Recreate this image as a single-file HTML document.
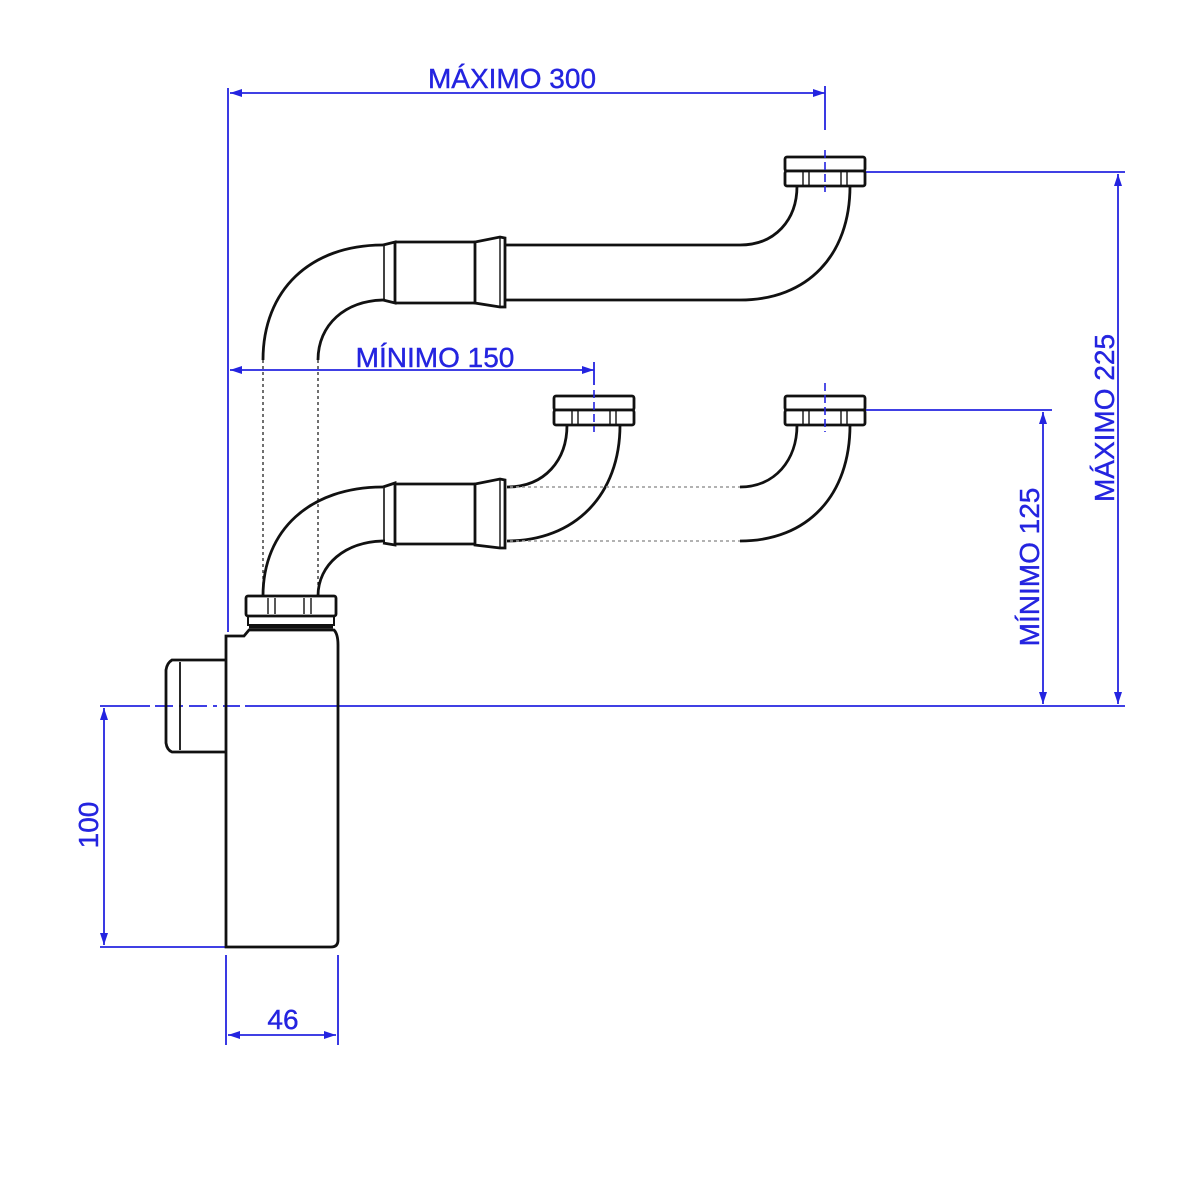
<!DOCTYPE html>
<html><head><meta charset="utf-8"><style>
html,body{margin:0;padding:0;background:#fff}
svg{display:block}
text{font-family:"Liberation Sans",sans-serif;font-size:28px;fill:#2424e0;stroke:#2424e0;stroke-width:0.4}
</style></head><body>
<svg width="1200" height="1200" viewBox="0 0 1200 1200" xmlns="http://www.w3.org/2000/svg">
<defs>
<marker id="a" viewBox="0 0 12 8" refX="12" refY="4" markerWidth="12" markerHeight="8" orient="auto-start-reverse" markerUnits="userSpaceOnUse"><path d="M0,0 L12,4 L0,8 z" fill="#2424e0"/></marker>
</defs>
<g stroke="#2424e0" stroke-width="1.8" fill="none">
<line x1="228" y1="88" x2="228" y2="632"/>
<line x1="230" y1="93" x2="825" y2="93" marker-start="url(#a)" marker-end="url(#a)"/>
<line x1="825" y1="86" x2="825" y2="130"/>
<line x1="230" y1="370" x2="594" y2="370" marker-start="url(#a)" marker-end="url(#a)"/>
<line x1="594" y1="362" x2="594" y2="385"/>
<line x1="100" y1="706" x2="150" y2="706"/>
<line x1="155" y1="706" x2="240" y2="706" stroke-dasharray="18,6,4,6"/>
<line x1="245" y1="706" x2="1125" y2="706"/>
<line x1="865" y1="172" x2="1125" y2="172"/>
<line x1="1118" y1="174" x2="1118" y2="704" marker-start="url(#a)" marker-end="url(#a)"/>
<line x1="865" y1="410" x2="1052" y2="410"/>
<line x1="1043" y1="412" x2="1043" y2="704" marker-start="url(#a)" marker-end="url(#a)"/>
<line x1="100" y1="947" x2="226" y2="947"/>
<line x1="104" y1="708" x2="104" y2="945" marker-start="url(#a)" marker-end="url(#a)"/>
<line x1="226" y1="955" x2="226" y2="1045"/>
<line x1="338" y1="955" x2="338" y2="1045"/>
<line x1="228" y1="1035" x2="336" y2="1035" marker-start="url(#a)" marker-end="url(#a)"/>
</g>
<text x="512" y="88" text-anchor="middle">MÁXIMO 300</text>
<text x="435" y="367" text-anchor="middle">MÍNIMO 150</text>
<text x="283" y="1029" text-anchor="middle">46</text>
<text transform="translate(98,825) rotate(-90)" text-anchor="middle">100</text>
<text transform="translate(1114,418) rotate(-90)" text-anchor="middle">MÁXIMO 225</text>
<text transform="translate(1039,567) rotate(-90)" text-anchor="middle">MÍNIMO 125</text>

<g stroke="#111" stroke-width="2.8" fill="none">
<line x1="263" y1="360" x2="263" y2="595" stroke-width="1.2" stroke-dasharray="3,3"/>
<line x1="318" y1="360" x2="318" y2="595" stroke-width="1.2" stroke-dasharray="3,3"/>
<path d="M226,947 L226,636 L244,636 L249,630 L334,630 Q338,634 338,645 L338,940 Q338,947 331,947 Z"/>
<path d="M226,660 L172,660 Q167,663 166,670 L166,743 Q167,750 172,752 L226,752"/>
<line x1="180" y1="662" x2="180" y2="750" stroke-width="1.8"/>
<rect x="246" y="596" width="90" height="20" rx="2"/>
<line x1="268" y1="598" x2="268" y2="614" stroke-width="1.4"/>
<line x1="275" y1="598" x2="275" y2="614" stroke-width="1.4"/>
<line x1="304" y1="598" x2="304" y2="614" stroke-width="1.4"/>
<line x1="311" y1="598" x2="311" y2="614" stroke-width="1.4"/>
<rect x="248" y="616" width="86" height="9" stroke-width="2"/>
<line x1="249" y1="627" x2="333" y2="627" stroke-width="3"/>
<path d="M263,596 C263,530 310,487 383,487"/>
<path d="M318,596 C318,565 345,541 385,541"/>
<path d="M383,487 L395,483 L395,545 L383,543"/>
<line x1="384" y1="487" x2="384" y2="543" stroke-width="1.6"/>
<line x1="395" y1="484" x2="475" y2="484"/>
<line x1="395" y1="544" x2="475" y2="544"/>
<path d="M475,484 L475,545 L500,548 L505,548 L505,480 L500,479 Z"/>
<line x1="500" y1="480" x2="500" y2="547" stroke-width="1.4"/>
<path d="M507,487 C545,487 567,460 567,425"/>
<path d="M507,541 C575,541 620,495 620,425"/>
<line x1="510" y1="487" x2="740" y2="487" stroke="#999" stroke-width="1.4" stroke-dasharray="3,3"/>
<line x1="510" y1="541" x2="740" y2="541" stroke="#999" stroke-width="1.4" stroke-dasharray="3,3"/>
<path d="M740,487 C775,487 797,460 797,425"/>
<path d="M740,541 C808,541 850,495 850,425"/>
<g id="nut">
<rect x="554" y="396" width="80" height="14" rx="2" fill="#fff"/>
<rect x="554" y="410" width="80" height="15" rx="2" fill="#fff"/>
<line x1="572" y1="411" x2="572" y2="424" stroke-width="1.4"/>
<line x1="578" y1="411" x2="578" y2="424" stroke-width="1.4"/>
<line x1="610" y1="411" x2="610" y2="424" stroke-width="1.4"/>
<line x1="616" y1="411" x2="616" y2="424" stroke-width="1.4"/>
</g>
<use href="#nut" x="231"/>
<use href="#nut" x="231" y="-239"/>
<path d="M263,360 C263,290 310,245 383,245"/>
<path d="M318,360 C318,325 345,300 385,300"/>
<path d="M383,245 L395,242 L395,303 L383,300"/>
<line x1="384" y1="245" x2="384" y2="300" stroke-width="1.6"/>
<line x1="395" y1="242" x2="475" y2="242"/>
<line x1="395" y1="303" x2="475" y2="303"/>
<path d="M475,242 L475,303 L500,307 L505,307 L505,238 L500,237 Z"/>
<line x1="500" y1="238" x2="500" y2="306" stroke-width="1.4"/>
<path d="M505,245 L740,245 C775,245 797,220 797,186"/>
<path d="M505,300 L740,300 C808,300 850,255 850,186"/>
</g>
<line x1="594" y1="390" x2="594" y2="432" stroke="#2424e0" stroke-width="1.6" stroke-dasharray="8,4"/>
<line x1="825" y1="383" x2="825" y2="432" stroke="#2424e0" stroke-width="1.6" stroke-dasharray="8,4"/>
<line x1="825" y1="150" x2="825" y2="192" stroke="#2424e0" stroke-width="1.6" stroke-dasharray="8,4"/>
</svg>
</body></html>
